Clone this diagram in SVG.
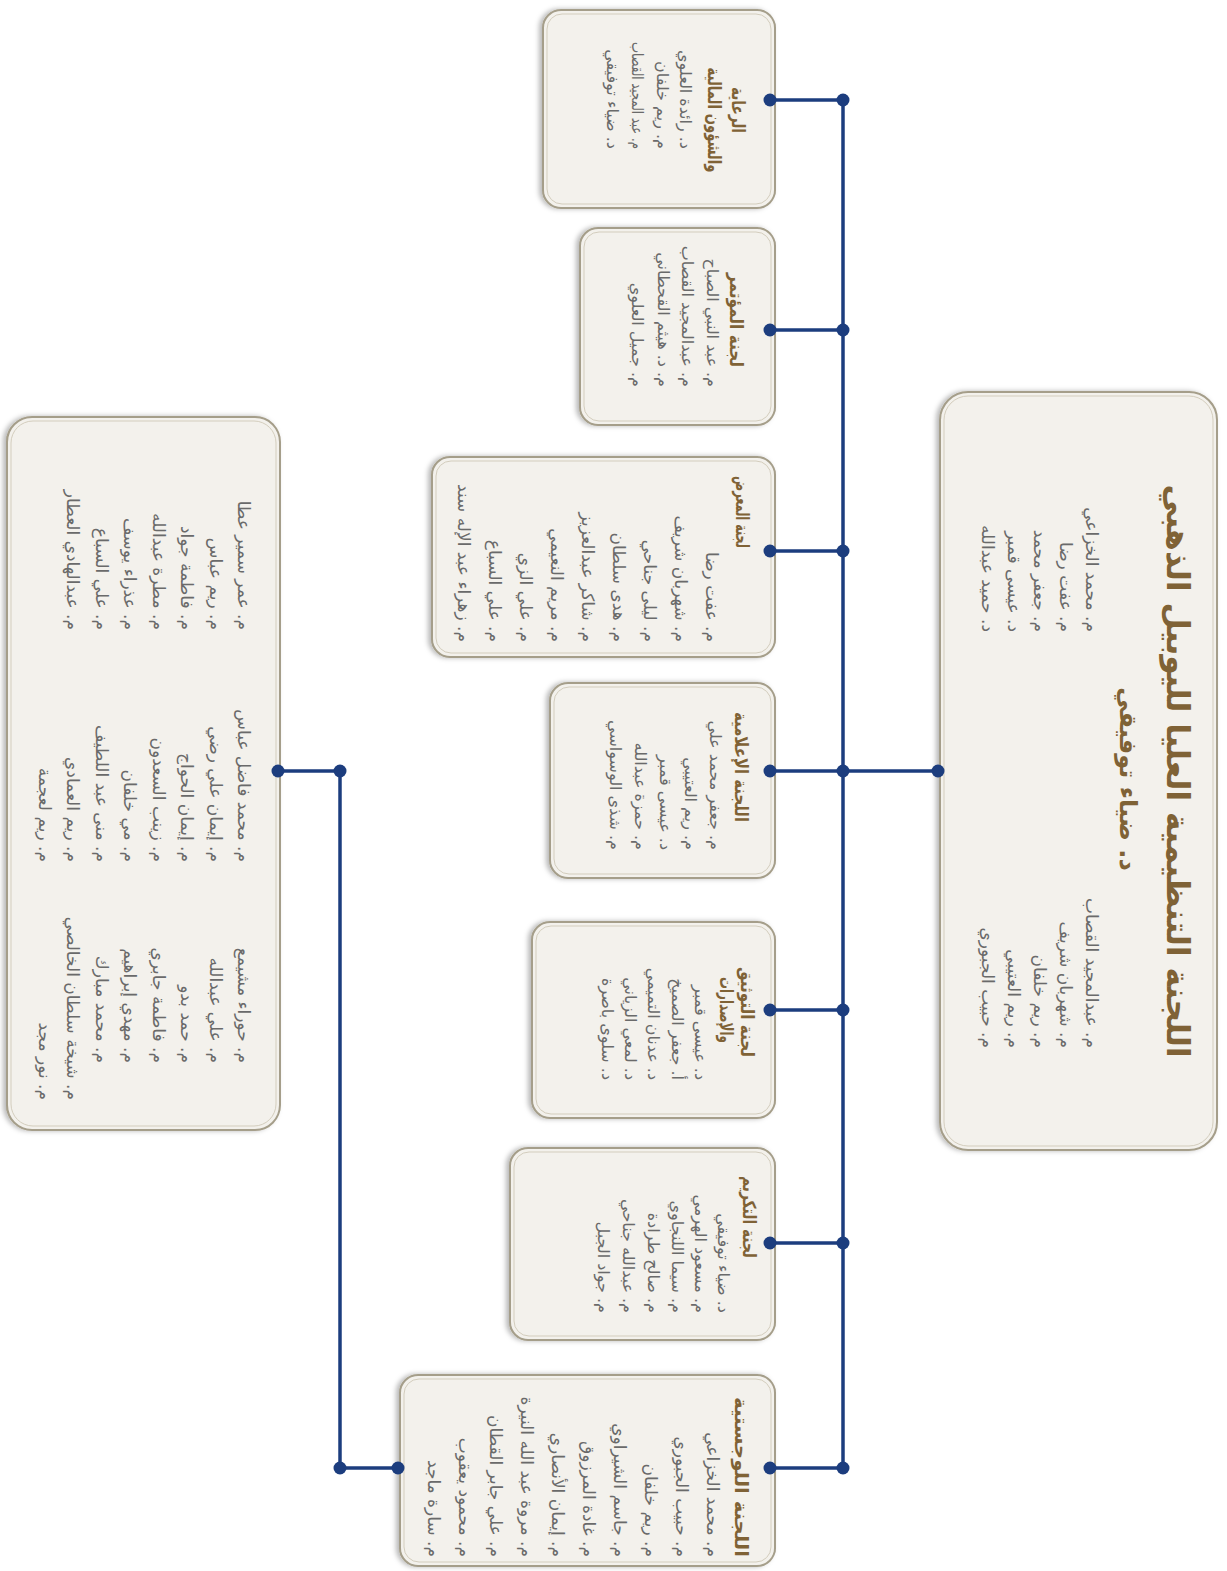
<svg xmlns="http://www.w3.org/2000/svg" width="1227" height="1571" viewBox="0 0 1227 1571">
<style>
.box{fill:#f3f1ec;stroke:#a59e8a;stroke-width:2}
.inn{fill:none;stroke:#d3cdbd;stroke-width:1}
.t{font-family:"DejaVu Sans",sans-serif;font-weight:bold;fill:#7f6236;text-anchor:middle}
.tm{font-size:32px}
.ts{font-size:24px}
.tc{font-size:18px}
.i{font-family:"DejaVu Sans",sans-serif;fill:#6a6a6a;text-anchor:end;font-size:16px}
.im{font-size:17px}
.il{font-size:17px}
.cn line{stroke:#1c3d7e;stroke-width:3.5}
.cn circle{fill:#1c3d7e}
</style>
<defs>
<filter id="sh" x="-10%" y="-10%" width="120%" height="130%"><feDropShadow dx="0" dy="3" stdDeviation="2.5" flood-color="#000" flood-opacity="0.28"/></filter>
</defs>
<rect width="1227" height="1571" fill="#fff"/>
<g transform="translate(1227,0) rotate(90)">
<g id="main">
<rect class="box" x="392" y="10" width="758" height="277" rx="28" filter="url(#sh)"/>
<rect class="inn" x="396" y="14" width="750" height="269" rx="24"/>
<text class="t tm" x="771" y="60" textLength="573" lengthAdjust="spacingAndGlyphs">اللجنة التنظيمية العليا لليوبيل الذهبي</text>
<text class="t ts" x="779" y="107">د. ضياء توفيقي</text>
<text class="i im" x="632" y="141">م. محمد الخزاعي</text>
<text class="i im" x="632" y="167">م. عفت رضا</text>
<text class="i im" x="632" y="193">م. جعفر محمد</text>
<text class="i im" x="632" y="219">د. عيسى قمبر</text>
<text class="i im" x="632" y="245">د. حميد عبدالله</text>
<text class="i im" x="1048" y="141">م. عبدالمجيد القصاب</text>
<text class="i im" x="1048" y="167">م. شهربان شريف</text>
<text class="i im" x="1048" y="193">م. ريم خلفان</text>
<text class="i im" x="1048" y="219">م. ريم العتيبي</text>
<text class="i im" x="1048" y="245">م. حبيب الجبوري</text>
</g>
<g id="finance">
<rect class="box" x="10" y="452" width="198" height="232" rx="18" filter="url(#sh)"/>
<rect class="inn" x="14" y="456" width="190" height="224" rx="15"/>
<text class="t tc" x="110" y="495" textLength="46" lengthAdjust="spacingAndGlyphs">الرعاية</text>
<text class="t tc" x="120" y="519" textLength="105" lengthAdjust="spacingAndGlyphs">والشؤون المالية</text>
<text class="i" x="149" y="547">د. رائدة العلوي</text>
<text class="i" x="149" y="570">م. ريم خلفان</text>
<text class="i" x="149" y="595" textLength="107" lengthAdjust="spacingAndGlyphs">م. عبد المجيد القصاب</text>
<text class="i" x="149" y="620">د. ضياء توفيقي</text>
</g>
<g id="conference">
<rect class="box" x="228" y="452" width="197" height="195" rx="18" filter="url(#sh)"/>
<rect class="inn" x="232" y="456" width="189" height="187" rx="15"/>
<text class="t tc" x="320" y="497" textLength="94" lengthAdjust="spacingAndGlyphs">لجنة المؤتمر</text>
<text class="i" x="387" y="520">م. عبد النبي الصباح</text>
<text class="i" x="387" y="545">م. عبدالمجيد القصاب</text>
<text class="i" x="387" y="569">م. د. هيثم القحطاني</text>
<text class="i" x="387" y="595">م. جميل العلوي</text>
</g>
<g id="exhibition">
<rect class="box" x="457" y="452" width="200" height="343" rx="18" filter="url(#sh)"/>
<rect class="inn" x="461" y="456" width="192" height="335" rx="15"/>
<text class="t tc" x="512" y="491" textLength="72" lengthAdjust="spacingAndGlyphs">لجنة المعرض</text>
<text class="i il" x="642" y="521">م. عفت رضا</text>
<text class="i il" x="642" y="552">م. شهربان شريف</text>
<text class="i il" x="642" y="583">م. ليلى جناحي</text>
<text class="i il" x="642" y="614">م. هدى سلطان</text>
<text class="i il" x="642" y="645">م. شاكر عبدالعزيز</text>
<text class="i il" x="642" y="676">م. مريم النعيمي</text>
<text class="i il" x="642" y="707">م. علي الزي</text>
<text class="i il" x="642" y="738">م. علي السباع</text>
<text class="i il" x="642" y="769">م. زهراء عبد الإله سند</text>
</g>
<g id="media">
<rect class="box" x="683" y="452" width="195" height="225" rx="18" filter="url(#sh)"/>
<rect class="inn" x="687" y="456" width="187" height="217" rx="15"/>
<text class="t tc" x="767" y="492" textLength="110" lengthAdjust="spacingAndGlyphs">اللجنة الإعلامية</text>
<text class="i" x="850" y="517">م. جعفر محمد علي</text>
<text class="i" x="850" y="542">م. ريم العتيبي</text>
<text class="i" x="850" y="567">د. عيسى قمبر</text>
<text class="i" x="850" y="592">م. حمزة عبدالله</text>
<text class="i" x="850" y="617">م. شذى الوسواسي</text>
</g>
<g id="documentation">
<rect class="box" x="922" y="452" width="196" height="243" rx="18" filter="url(#sh)"/>
<rect class="inn" x="926" y="456" width="188" height="235" rx="15"/>
<text class="t tc" x="1012" y="486" textLength="90" lengthAdjust="spacingAndGlyphs">لجنة التوثيق</text>
<text class="t tc" x="1010" y="507" textLength="66" lengthAdjust="spacingAndGlyphs">والإصدارات</text>
<text class="i" x="1080" y="532">د. عيسى قمبر</text>
<text class="i" x="1080" y="555">أ. جعفر الصميخ</text>
<text class="i" x="1080" y="579">د. عدنان التميمي</text>
<text class="i" x="1080" y="602">د. لمعي الزياني</text>
<text class="i" x="1080" y="625">د. سلوى باصرة</text>
</g>
<g id="honoring">
<rect class="box" x="1148" y="452" width="192" height="265" rx="18" filter="url(#sh)"/>
<rect class="inn" x="1152" y="456" width="184" height="257" rx="15"/>
<text class="t tc" x="1217" y="484" textLength="82" lengthAdjust="spacingAndGlyphs">لجنة التكريم</text>
<text class="i" x="1313" y="509">د. ضياء توفيقي</text>
<text class="i" x="1313" y="532">م. مسعود الهرمي</text>
<text class="i" x="1313" y="555">م. سيما اللنجاوي</text>
<text class="i" x="1313" y="579">م. صالح طرادة</text>
<text class="i" x="1313" y="604">م. عبدالله جناحي</text>
<text class="i" x="1313" y="629">م. جواد الجبل</text>
</g>
<g id="logistics">
<rect class="box" x="1375" y="452" width="191" height="375" rx="18" filter="url(#sh)"/>
<rect class="inn" x="1379" y="456" width="183" height="367" rx="15"/>
<text class="t tc" x="1477" y="492" textLength="160" lengthAdjust="spacingAndGlyphs">اللجنة اللوجستية</text>
<text class="i il" x="1557" y="520">م. محمد الخزاعي</text>
<text class="i il" x="1557" y="551">م. حبيب الجبوري</text>
<text class="i il" x="1557" y="582">م. ريم خلفان</text>
<text class="i il" x="1557" y="613">م. جاسم الشيراوي</text>
<text class="i il" x="1557" y="644">م. غادة المرزوق</text>
<text class="i il" x="1557" y="675">م. إيمان الأنصاري</text>
<text class="i il" x="1557" y="706">م. مروة عبد الله النيرة</text>
<text class="i il" x="1557" y="737">م. علي جابر القطان</text>
<text class="i il" x="1557" y="768">م. محمود يعقوب</text>
<text class="i il" x="1557" y="799">م. سارة ماجد</text>
</g>
<g id="members">
<rect class="box" x="417" y="947" width="713" height="273" rx="25" filter="url(#sh)"/>
<rect class="inn" x="421" y="951" width="705" height="265" rx="22"/>
<text class="i il" x="630" y="989">م. عمر سمير عطا</text>
<text class="i il" x="630" y="1017">م. ريم عباس</text>
<text class="i il" x="630" y="1046">م. فاطمة جواد</text>
<text class="i il" x="630" y="1074">م. مطرة عبدالله</text>
<text class="i il" x="630" y="1103">م. عذراء يوسف</text>
<text class="i il" x="630" y="1131">م. علي السباع</text>
<text class="i il" x="630" y="1160">م. عبدالهادي العطار</text>
<text class="i il" x="862" y="989">م. محمد فاضل عباس</text>
<text class="i il" x="862" y="1017">م. إيمان علي رضي</text>
<text class="i il" x="862" y="1046">م. إيمان الحواج</text>
<text class="i il" x="862" y="1074">م. زينب السعدون</text>
<text class="i il" x="862" y="1103">م. مي خلفان</text>
<text class="i il" x="862" y="1131">م. منى عبد اللطيف</text>
<text class="i il" x="862" y="1160">م. ريم العمادي</text>
<text class="i il" x="862" y="1188">م. ريم لعجمة</text>
<text class="i il" x="1063" y="989">م. حوراء مشيمع</text>
<text class="i il" x="1063" y="1017">م. علي عبدالله</text>
<text class="i il" x="1063" y="1046">م. حمد بدو</text>
<text class="i il" x="1063" y="1074">م. فاطمة جابري</text>
<text class="i il" x="1063" y="1103">م. مهدي إبراهيم</text>
<text class="i il" x="1063" y="1131">م. محمد مبارك</text>
<text class="i il" x="1100" y="1160">م. شيخة سلطان الخالصي</text>
<text class="i il" x="1100" y="1188">م. نور مجد</text>
</g>
</g>
<g id="connectors" class="cn">
<line x1="843" y1="100" x2="843" y2="1468"/>
<line x1="843" y1="771" x2="938" y2="771"/>
<line x1="770" y1="100" x2="843" y2="100"/>
<line x1="770" y1="330" x2="843" y2="330"/>
<line x1="770" y1="551" x2="843" y2="551"/>
<line x1="770" y1="771" x2="843" y2="771"/>
<line x1="770" y1="1010" x2="843" y2="1010"/>
<line x1="770" y1="1243" x2="843" y2="1243"/>
<line x1="770" y1="1468" x2="843" y2="1468"/>
<line x1="340" y1="1468" x2="398" y2="1468"/>
<line x1="340" y1="771" x2="340" y2="1468"/>
<line x1="278" y1="771" x2="340" y2="771"/>
<circle cx="843" cy="100" r="6.5"/><circle cx="843" cy="330" r="6.5"/><circle cx="843" cy="551" r="6.5"/><circle cx="843" cy="771" r="6.5"/><circle cx="843" cy="1010" r="6.5"/><circle cx="843" cy="1243" r="6.5"/><circle cx="843" cy="1468" r="6.5"/>
<circle cx="770" cy="100" r="6.5"/><circle cx="770" cy="330" r="6.5"/><circle cx="770" cy="551" r="6.5"/><circle cx="770" cy="771" r="6.5"/><circle cx="770" cy="1010" r="6.5"/><circle cx="770" cy="1243" r="6.5"/><circle cx="770" cy="1468" r="6.5"/>
<circle cx="938" cy="771" r="6.5"/><circle cx="398" cy="1468" r="6.5"/><circle cx="340" cy="1468" r="6.5"/><circle cx="340" cy="771" r="6.5"/><circle cx="278" cy="771" r="6.5"/>
</g>
</svg>
